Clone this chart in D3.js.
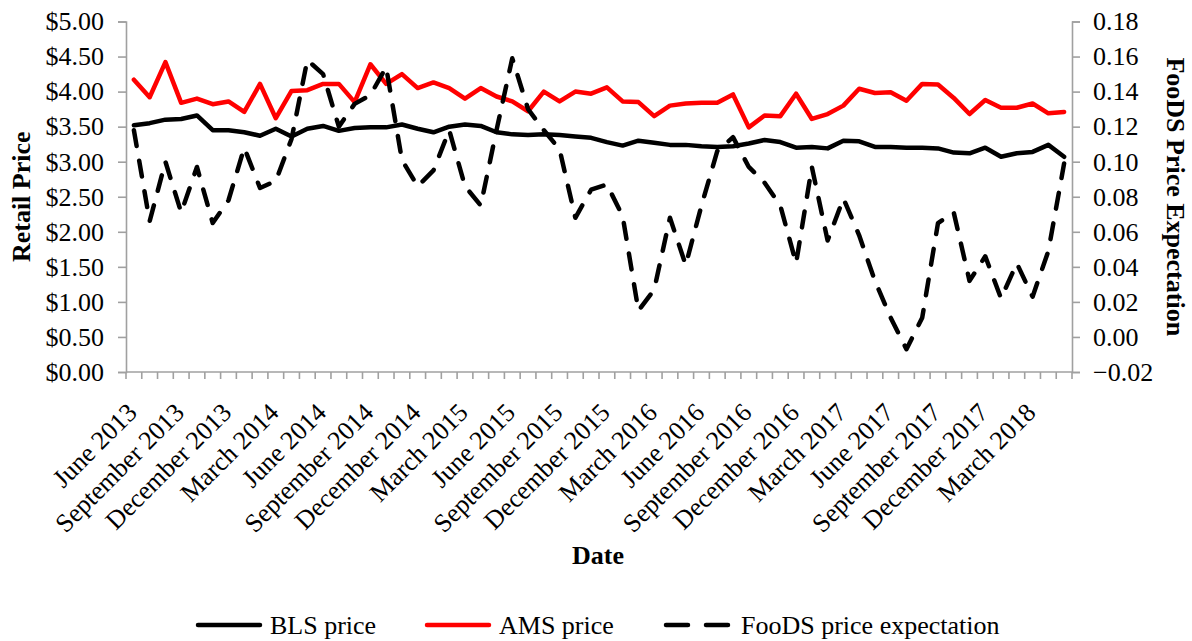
<!DOCTYPE html>
<html>
<head>
<meta charset="utf-8">
<script src="https://cdn.jsdelivr.net/npm/d3@7"></script>
<style>
  html, body { margin: 0; padding: 0; background: #fff; }
  svg { display: block; }
  text { font-family: "Liberation Serif", "Times New Roman", serif; fill: #000; }
</style>
</head>
<body>
<svg id="chart" width="1192" height="641"></svg>
<script>
const categories = [
  "June 2013","July 2013","August 2013","September 2013","October 2013","November 2013",
  "December 2013","January 2014","February 2014","March 2014","April 2014","May 2014",
  "June 2014","July 2014","August 2014","September 2014","October 2014","November 2014",
  "December 2014","January 2015","February 2015","March 2015","April 2015","May 2015",
  "June 2015","July 2015","August 2015","September 2015","October 2015","November 2015",
  "December 2015","January 2016","February 2016","March 2016","April 2016","May 2016",
  "June 2016","July 2016","August 2016","September 2016","October 2016","November 2016",
  "December 2016","January 2017","February 2017","March 2017","April 2017","May 2017",
  "June 2017","July 2017","August 2017","September 2017","October 2017","November 2017",
  "December 2017","January 2018","February 2018","March 2018","April 2018","May 2018"
];

const blsPrice = [
  3.52,3.55,3.60,3.61,3.66,3.45,3.45,3.42,3.37,3.47,3.36,3.47,3.51,3.44,3.48,3.49,3.49,3.53,3.47,3.42,
  3.50,3.53,3.51,3.42,3.39,3.38,3.39,3.38,3.36,3.34,3.28,3.23,3.30,3.27,3.24,3.24,3.22,3.21,3.22,3.26,
  3.31,3.28,3.20,3.21,3.19,3.30,3.29,3.21,3.21,3.20,3.20,3.19,3.13,3.12,3.20,3.07,3.12,3.14,3.24,3.07
];

const amsPrice = [
  4.17,3.92,4.42,3.84,3.90,3.82,3.86,3.71,4.11,3.62,4.01,4.02,4.11,4.11,3.85,4.39,4.11,4.25,4.05,4.13,
  4.05,3.90,4.05,3.93,3.86,3.72,4.00,3.86,4.00,3.97,4.06,3.86,3.85,3.65,3.80,3.83,3.84,3.84,3.96,3.49,
  3.66,3.65,3.97,3.61,3.68,3.80,4.04,3.98,3.99,3.87,4.11,4.10,3.91,3.68,3.88,3.77,3.77,3.83,3.69,3.71
];

const foodsExpectation = [
  0.118,0.066,0.100,0.071,0.097,0.065,0.078,0.108,0.085,0.089,
  0.113,0.158,0.150,0.120,0.133,0.138,0.154,0.101,0.086,0.095,
  0.118,0.086,0.075,0.118,0.159,0.130,0.118,0.107,0.068,0.084,
  0.087,0.069,0.015,0.027,0.068,0.041,0.075,0.106,0.114,0.097,
  0.088,0.075,0.042,0.097,0.055,0.079,0.058,0.032,0.011,-0.007,
  0.011,0.065,0.071,0.032,0.046,0.022,0.042,0.023,0.049,0.099
];

const leftTicks = [0,0.5,1,1.5,2,2.5,3,3.5,4,4.5,5];
const rightTicks = [-0.02,0,0.02,0.04,0.06,0.08,0.10,0.12,0.14,0.16,0.18];
const xTickLabels = categories.filter((d, i) => i % 3 === 0);

const legendItems = [
  { label: "BLS price", color: "#000000", dashed: false },
  { label: "AMS price", color: "#ff0000", dashed: false },
  { label: "FooDS price expectation", color: "#000000", dashed: true }
];

const svg = d3.select("#chart");
const W = 1192, H = 641;
const plot = { left: 126, right: 1072, top: 21.5, bottom: 372 };
const axisColor = "#a0a0a0";
const FS = 26;

svg.append("rect").attr("width", W).attr("height", H).attr("fill", "#fff");

const x = d3.scalePoint().domain(categories).range([plot.left, plot.right]).padding(0.5);
const yL = d3.scaleLinear().domain([0, 5]).range([plot.bottom, plot.top]);
const yR = d3.scaleLinear().domain([-0.02, 0.18]).range([plot.bottom, plot.top]);

// Left axis
const gL = svg.append("g").attr("transform", `translate(${plot.left},0)`)
  .call(d3.axisLeft(yL).tickValues(leftTicks).tickSize(8).tickPadding(14)
    .tickFormat(d3.format("$.2f")));
gL.select(".domain").attr("stroke", axisColor).attr("stroke-width", 1.6);
gL.selectAll(".tick line").attr("stroke", axisColor).attr("stroke-width", 1.6);
gL.selectAll(".tick text").style("font-family", "Liberation Serif").style("font-size", FS + "px").attr("fill", "#000");

// Right axis
const gR = svg.append("g").attr("transform", `translate(${plot.right},0)`)
  .call(d3.axisRight(yR).tickValues(rightTicks).tickSize(8).tickPadding(13)
    .tickFormat(d3.format(".2f")));
gR.select(".domain").attr("stroke", axisColor).attr("stroke-width", 1.6);
gR.selectAll(".tick line").attr("stroke", axisColor).attr("stroke-width", 1.6);
gR.selectAll(".tick text").style("font-family", "Liberation Serif").style("font-size", FS + "px").attr("fill", "#000");

// Bottom axis: line + tick marks between categories
const step = x.step();
const boundaries = categories.map(c => x(c) - step / 2).concat([x(categories[categories.length - 1]) + step / 2]);
svg.append("line")
  .attr("x1", plot.left).attr("x2", plot.right)
  .attr("y1", plot.bottom).attr("y2", plot.bottom)
  .attr("stroke", axisColor).attr("stroke-width", 1.6);
svg.append("g").selectAll("line").data(boundaries).join("line")
  .attr("x1", d => d).attr("x2", d => d)
  .attr("y1", plot.bottom).attr("y2", plot.bottom + 7)
  .attr("stroke", axisColor).attr("stroke-width", 1.6);

const gB = svg.append("g").attr("transform", `translate(0,${plot.bottom})`)
  .call(d3.axisBottom(x).tickValues(xTickLabels).tickSize(0));
gB.select(".domain").remove();
gB.selectAll(".tick text")
  .style("font-family", "Liberation Serif").style("font-size", FS + "px").attr("fill", "#000")
  .attr("text-anchor", "end")
  .attr("x", 0).attr("y", 0).attr("dy", 0)
  .attr("transform", "translate(4,42) rotate(-45)");

// Lines
const lineL = d3.line().x((d, i) => x(categories[i])).y(d => yL(d));
const lineR = d3.line().x((d, i) => x(categories[i])).y(d => yR(d));

svg.append("path").datum(blsPrice).attr("d", lineL)
  .attr("fill", "none").attr("stroke", "#000").attr("stroke-width", 4.5)
  .attr("stroke-linejoin", "round").attr("stroke-linecap", "round");
svg.append("path").datum(amsPrice).attr("d", lineL)
  .attr("fill", "none").attr("stroke", "#ff0000").attr("stroke-width", 4.5)
  .attr("stroke-linejoin", "round").attr("stroke-linecap", "round");
svg.append("path").datum(foodsExpectation).attr("d", lineR)
  .attr("fill", "none").attr("stroke", "#000").attr("stroke-width", 4.5)
  .attr("stroke-dasharray", "16,15")
  .attr("stroke-linejoin", "round").attr("stroke-linecap", "round");

// Axis titles
svg.append("text").attr("transform", `translate(30,${(plot.top + plot.bottom) / 2}) rotate(-90)`)
  .attr("text-anchor", "middle").style("font-size", FS + "px").style("font-weight", "bold")
  .text("Retail Price");
svg.append("text").attr("transform", `translate(1167,${(plot.top + plot.bottom) / 2}) rotate(90)`)
  .attr("text-anchor", "middle").style("font-size", FS + "px").style("font-weight", "bold")
  .text("FooDS Price Expectation");
svg.append("text").attr("x", 598).attr("y", 564)
  .attr("text-anchor", "middle").style("font-size", FS + "px").style("font-weight", "bold")
  .text("Date");

// Legend
const legendX = [196, 425, 664];
const lg = svg.append("g").selectAll("g").data(legendItems).join("g")
  .attr("transform", (d, i) => `translate(${legendX[i]},625)`);
lg.append("line")
  .attr("x1", 2).attr("x2", 64).attr("y1", 0).attr("y2", 0)
  .attr("stroke", d => d.color).attr("stroke-width", 4.5).attr("stroke-linecap", "round")
  .attr("stroke-dasharray", d => d.dashed ? "22,18" : null);
lg.append("text").attr("x", d => d.dashed ? 77 : 74).attr("y", 9)
  .style("font-size", FS + "px").text(d => d.label);
</script>
</body>
</html>
